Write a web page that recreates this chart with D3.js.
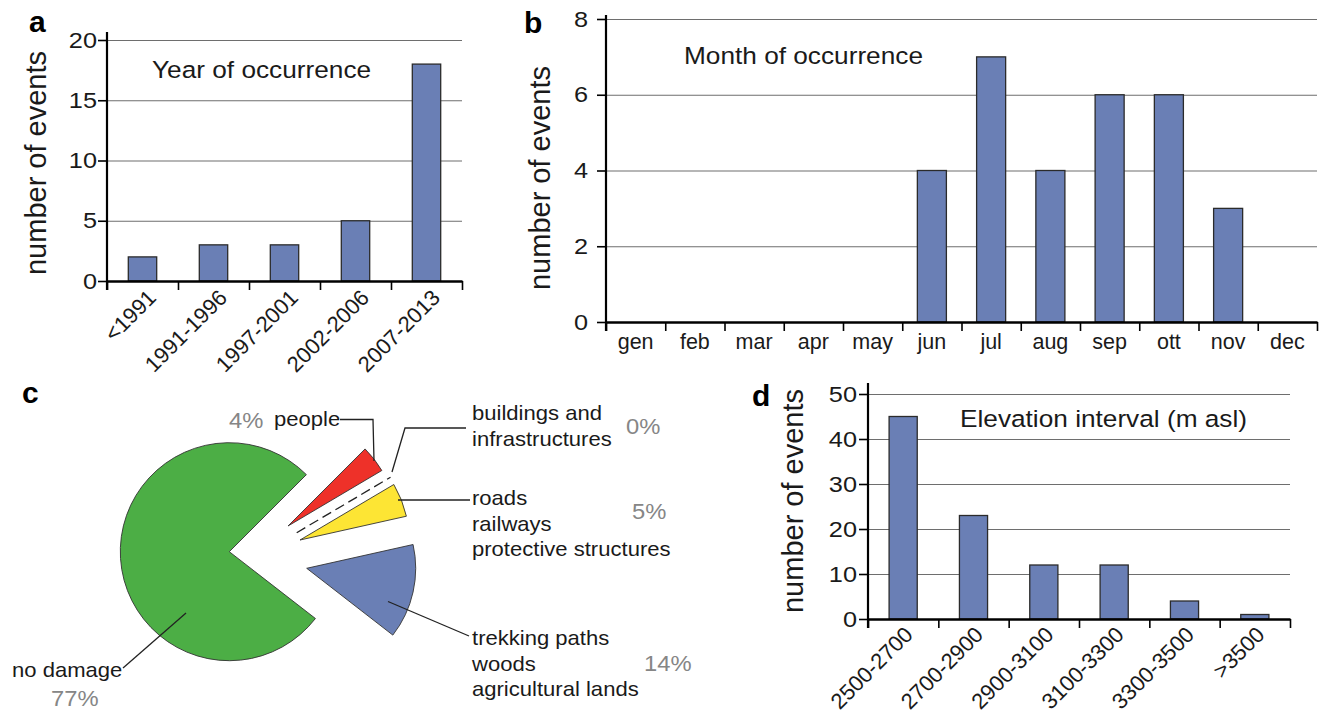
<!DOCTYPE html>
<html>
<head>
<meta charset="utf-8">
<script src="https://cdn.jsdelivr.net/npm/d3@7"></script>
<style>
  body { margin: 0; background: #fff; }
  svg { display: block; font-family: "Liberation Sans", Arial, sans-serif; }
</style>
</head>
<body>
<svg id="fig" width="1319" height="712"></svg>
<script>
// a - year of occurrence
var yearCats = ["<1991", "1991-1996", "1997-2001", "2002-2006", "2007-2013"];
var yearCounts = [2, 3, 3, 5, 18];
var yearTicks = [0, 5, 10, 15, 20];

// b - month of occurrence
var monthCats = ["gen", "feb", "mar", "apr", "may", "jun", "jul", "aug", "sep", "ott", "nov", "dec"];
var monthCounts = [0, 0, 0, 0, 0, 4, 7, 4, 6, 6, 3, 0];
var monthTicks = [0, 2, 4, 6, 8];

// d - elevation interval
var elevCats = ["2500-2700", "2700-2900", "2900-3100", "3100-3300", "3300-3500", ">3500"];
var elevCounts = [45, 23, 12, 12, 4, 1];
var elevTicks = [0, 10, 20, 30, 40, 50];

// c - damage (clockwise, starting from the upper edge of "no damage")
var damageKeys = ["people", "buildings", "roads", "trekking", "nodamage"];
var damagePct = [4, 0, 5, 14, 77];
var damageLabels = [
	["people"],
	["buildings and", "infrastructures"],
	["roads", "railways", "protective structures"],
	["trekking paths", "woods", "agricultural lands"],
	["no damage"]
];

var svg = d3.select("#fig");
var FONT_TICK = 22;

// the original lettering is a bit wider than Arial
function widen(sel, k) {
	sel.each(function() {
		var w = this.getComputedTextLength();
		d3.select(this).attr("textLength", w * k).attr("lengthAdjust", "spacingAndGlyphs");
	});
}

function barPanel(o) {
	var g = svg.append("g");
	var n = o.cats.length;
	var y = d3.scaleLinear().domain([0, d3.max(o.ticks)]).range([o.y0, o.y1]);
	var xb = d3.scaleBand().domain(o.cats).range([o.x0, o.x1]);
	var xl = d3.scaleLinear().domain([0, n]).range([o.x0, o.x1]);

	// grid
	g.append("g")
		.attr("transform", "translate(" + o.x0 + ",0)")
		.call(d3.axisLeft(y).tickValues(o.ticks.slice(1)).tickSize(-(o.x1 - o.x0)).tickFormat(""))
		.call(function(s) {
			s.select(".domain").remove();
			s.selectAll("line").attr("stroke", "#6e6e6e").attr("stroke-width", 1.2);
		});

	// bars
	var rows = o.cats.map(function(c, i) { return { cat: c, v: o.vals[i] }; })
		.filter(function(d) { return d.v > 0; });
	var bw = xb.bandwidth() * o.barFrac;
	g.selectAll("rect.bar")
		.data(rows)
		.enter()
		.append("rect")
		.attr("class", "bar")
		.attr("x", function(d) { return xb(d.cat) + (xb.bandwidth() - bw) / 2; })
		.attr("width", bw)
		.attr("y", function(d) { return y(d.v); })
		.attr("height", function(d) { return y(0) - y(d.v); })
		.attr("fill", "#6a7fb5")
		.attr("stroke", "#2b2b2b")
		.attr("stroke-width", 1.3);

	// y axis
	var ya = g.append("g")
		.attr("transform", "translate(" + o.x0 + ",0)")
		.call(d3.axisLeft(y).tickValues(o.ticks).tickSize(9).tickPadding(o.yPad));
	ya.select(".domain").remove();
	ya.selectAll("line").attr("stroke", "#000").attr("stroke-width", 1.6);
	ya.selectAll("text").attr("font-size", FONT_TICK).attr("fill", "#1a1a1a").attr("font-family", "Liberation Sans, Arial, sans-serif");
	widen(ya.selectAll("text"), 1.15);
	g.append("line")
		.attr("x1", o.x0).attr("x2", o.x0)
		.attr("y1", o.axisTop).attr("y2", o.y0 + 9)
		.attr("stroke", "#000").attr("stroke-width", 2.2);

	// x axis with ticks at category borders
	var xa = g.append("g")
		.attr("transform", "translate(0," + o.y0 + ")")
		.call(d3.axisBottom(xl).tickValues(d3.range(n + 1)).tickSize(9).tickSizeOuter(0).tickFormat(""));
	xa.select(".domain").attr("stroke", "#000").attr("stroke-width", 2.4);
	xa.selectAll("line").attr("stroke", "#000").attr("stroke-width", 1.6);

	// x labels
	if (o.rotate) {
		var xt = g.selectAll("text.xl")
			.data(o.cats)
			.enter()
			.append("text")
			.attr("class", "xl")
			.attr("transform", function(d) {
				return "translate(" + (xb(d) + xb.bandwidth() / 2 + o.lblDx) + "," + (o.y0 + o.lblDy) + ") rotate(-45)";
			})
			.attr("text-anchor", "end")
			.attr("font-size", FONT_TICK)
			.attr("fill", "#1a1a1a")
			.text(function(d) { return d; });
	} else {
		var lab = g.append("g")
			.attr("transform", "translate(0," + o.y0 + ")")
			.call(d3.axisBottom(xb).tickSize(0).tickPadding(12));
		lab.select(".domain").remove();
		lab.selectAll("text").attr("font-size", FONT_TICK - 0.5).attr("fill", "#1a1a1a").attr("font-family", "Liberation Sans, Arial, sans-serif");
	}

	// y title
	g.append("text")
		.attr("transform", "translate(" + o.ytX + "," + o.ytY + ") rotate(-90)")
		.attr("text-anchor", "middle")
		.attr("font-size", 29)
		.attr("fill", "#1a1a1a")
		.text("number of events");

	// panel title
	var tt = g.append("text")
		.attr("x", o.titleX).attr("y", o.titleY)
		.attr("font-size", 24.5)
		.attr("fill", "#1a1a1a")
		.text(o.title);
	widen(tt, 1.07);

	// panel letter
	g.append("text")
		.attr("x", o.letterX).attr("y", o.letterY)
		.attr("font-size", 30).attr("font-weight", "bold")
		.text(o.letter);
}

barPanel({
	cats: yearCats, vals: yearCounts, ticks: yearTicks,
	x0: 107, x1: 462, y0: 281, y1: 40, axisTop: 32, barFrac: 0.4, yPad: 1,
	rotate: true, lblDx: 15, lblDy: 18,
	ytX: 46, ytY: 163, title: "Year of occurrence", titleX: 152, titleY: 78,
	letter: "a", letterX: 29, letterY: 32
});

barPanel({
	cats: monthCats, vals: monthCounts, ticks: monthTicks,
	x0: 606, x1: 1317, y0: 322, y1: 19, axisTop: 15, barFrac: 0.49, yPad: 9,
	rotate: false,
	ytX: 550, ytY: 178, title: "Month of occurrence", titleX: 684, titleY: 64,
	letter: "b", letterX: 524, letterY: 33
});

barPanel({
	cats: elevCats, vals: elevCounts, ticks: elevTicks,
	x0: 868, x1: 1290, y0: 619, y1: 394, axisTop: 383, barFrac: 0.4, yPad: 2,
	rotate: true, lblDx: 11, lblDy: 17,
	ytX: 803, ytY: 501, title: "Elevation interval (m asl)", titleX: 960, titleY: 427,
	letter: "d", letterX: 752, letterY: 406
});

// c - pie
var pieCx = 229.3, pieCy = 551.7, pieR = 109;
var pieColors = { people: "#ee3129", buildings: "none", roads: "#fde534", trekking: "#6a7fb5", nodamage: "#4cae45" };
var explode = { people: [58.7, -25.7], buildings: [67.4, -19], roads: [70.7, -11.7], trekking: [77.4, 16.6], nodamage: [0, 0] };

var pie = d3.pie().sort(null).value(function(d) { return d; })
	.startAngle(Math.PI / 4).endAngle(Math.PI / 4 + 2 * Math.PI);
var arcs = pie(damagePct);
var arc = d3.arc().innerRadius(0).outerRadius(pieR);

var gc = svg.append("g").attr("transform", "translate(" + pieCx + "," + pieCy + ")");
arcs.forEach(function(a, i) {
	var key = damageKeys[i];
	var off = explode[key];
	var sg = gc.append("g").attr("transform", "translate(" + off[0] + "," + off[1] + ")");
	if (a.endAngle - a.startAngle > 0) {
		sg.append("path")
			.attr("d", arc(a))
			.attr("fill", pieColors[key])
			.attr("stroke", "#333")
			.attr("stroke-width", 0.9);
	} else {
		var p = d3.pointRadial(a.startAngle, pieR);
		sg.append("line")
			.attr("x1", 0).attr("y1", 0).attr("x2", p[0]).attr("y2", p[1])
			.attr("stroke", "#222").attr("stroke-width", 1.3)
			.attr("stroke-dasharray", "10,5");
	}
});

// leader lines
var leaders = [
	[[340, 419.5], [373, 419.5], [374, 461]],
	[[466, 428], [405, 428], [392, 472]],
	[[470, 500], [398, 500]],
	[[469, 636], [388, 601.5]],
	[[123, 668], [186, 613]]
];
var line = d3.line();
svg.selectAll("path.leader")
	.data(leaders)
	.enter()
	.append("path")
	.attr("class", "leader")
	.attr("d", line)
	.attr("fill", "none")
	.attr("stroke", "#222")
	.attr("stroke-width", 1.3);

// labels
var labelPos = {
	people: [274, 426],
	buildings: [472, 420],
	roads: [472, 505],
	trekking: [472, 645],
	nodamage: [12, 677]
};
var pctPos = {
	people: [229, 428],
	buildings: [626, 434],
	roads: [632, 519],
	trekking: [644, 671],
	nodamage: [51, 706]
};
damageKeys.forEach(function(key, i) {
	var t = svg.append("text")
		.attr("x", labelPos[key][0]).attr("y", labelPos[key][1])
		.attr("font-size", 21).attr("fill", "#1a1a1a");
	damageLabels[i].forEach(function(s, k) {
		var ts = t.append("tspan").attr("x", labelPos[key][0]).attr("dy", k === 0 ? 0 : 25.5).text(s);
		widen(ts, 1.05);
	});
	var pt = svg.append("text")
		.attr("x", pctPos[key][0]).attr("y", pctPos[key][1])
		.attr("font-size", 22).attr("fill", "#868686")
		.text(damagePct[i] + "%");
	widen(pt, 1.08);
});

svg.append("text")
	.attr("x", 22).attr("y", 403)
	.attr("font-size", 30).attr("font-weight", "bold")
	.text("c");
</script>
</body>
</html>
